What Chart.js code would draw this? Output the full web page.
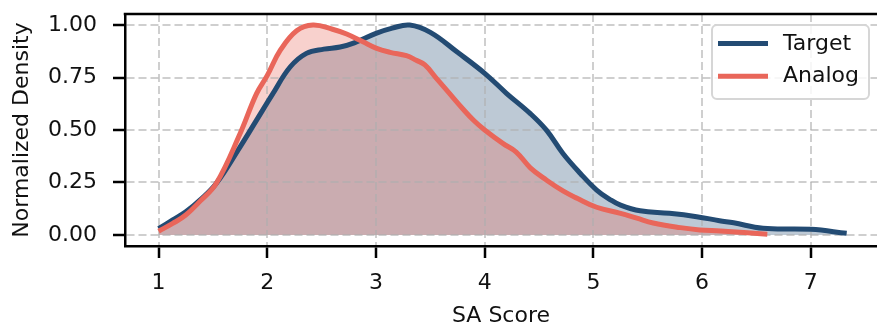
<!DOCTYPE html>
<html>
<head>
<meta charset="utf-8">
<script src="https://cdn.jsdelivr.net/npm/chart.js@4/dist/chart.umd.min.js"></script>
<style>
  html, body { margin: 0; padding: 0; background: #fff; }
  canvas { display: block; }
</style>
</head>
<body>
<canvas id="chart" width="877" height="327" style="width:877px;height:327px"></canvas>
<script>
// Normalized SA score densities
const targetX = [1.00, 1.13, 1.25, 1.38, 1.53, 1.75, 1.90, 2.05, 2.21, 2.36, 2.52, 2.67, 2.80, 3.00, 3.15, 3.31, 3.50, 3.75, 4.00, 4.20, 4.42, 4.57, 4.72, 4.88, 5.03, 5.15, 5.25, 5.43, 5.70, 5.95, 6.16, 6.29, 6.56, 7.00, 7.33];
const targetY = [0.030, 0.072, 0.110, 0.166, 0.245, 0.420, 0.546, 0.672, 0.800, 0.865, 0.885, 0.895, 0.915, 0.960, 0.985, 1.000, 0.965, 0.870, 0.770, 0.675, 0.578, 0.498, 0.388, 0.293, 0.214, 0.170, 0.142, 0.115, 0.103, 0.087, 0.068, 0.058, 0.032, 0.027, 0.008];

const analogX = [1.00, 1.13, 1.25, 1.38, 1.53, 1.75, 1.90, 2.00, 2.12, 2.27, 2.42, 2.60, 2.73, 2.88, 3.00, 3.13, 3.28, 3.37, 3.45, 3.55, 3.65, 3.80, 3.90, 4.00, 4.17, 4.29, 4.42, 4.57, 4.72, 4.85, 5.03, 5.25, 5.40, 5.55, 5.80, 5.98, 6.17, 6.60];
const analogY = [0.018, 0.055, 0.095, 0.160, 0.245, 0.483, 0.672, 0.760, 0.880, 0.973, 1.000, 0.980, 0.957, 0.920, 0.890, 0.870, 0.854, 0.832, 0.810, 0.750, 0.690, 0.600, 0.545, 0.500, 0.435, 0.395, 0.320, 0.261, 0.210, 0.175, 0.132, 0.103, 0.080, 0.057, 0.035, 0.024, 0.019, 0.004];

const seriesNames = ['Target', 'Analog'];
const xTicks = [1, 2, 3, 4, 5, 6, 7];
const yTicks = [0, 0.25, 0.5, 0.75, 1.0];

const NAVY = '#234b73';
const CORAL = '#e9665a';
const FONT = "'DejaVu Sans', sans-serif";
const FONT_SIZE = 22;
const TEXT = '#111111';

const toPoints = (xs, ys) => xs.map((x, i) => ({ x: x, y: ys[i] }));

// Top spine (frame without the right edge)
const topSpine = {
  id: 'topSpine',
  afterDraw(chart) {
    const { ctx, chartArea: a } = chart;
    ctx.save();
    ctx.strokeStyle = '#000';
    ctx.lineWidth = 2.5;
    ctx.beginPath();
    ctx.moveTo(a.left - 1.25, a.top);
    ctx.lineTo(a.right, a.top);
    ctx.stroke();
    ctx.restore();
  }
};

// Framed legend in the upper right corner of the plot
const legendBox = {
  id: 'legendBox',
  afterDraw(chart) {
    const { ctx, chartArea: a } = chart;
    const w = 157, h = 74, r = 5;
    const x0 = a.right - 165, y0 = a.top + 11;
    ctx.save();
    ctx.beginPath();
    ctx.moveTo(x0 + r, y0);
    ctx.arcTo(x0 + w, y0, x0 + w, y0 + h, r);
    ctx.arcTo(x0 + w, y0 + h, x0, y0 + h, r);
    ctx.arcTo(x0, y0 + h, x0, y0, r);
    ctx.arcTo(x0, y0, x0 + w, y0, r);
    ctx.closePath();
    ctx.fillStyle = 'rgba(255,255,255,0.85)';
    ctx.fill();
    ctx.strokeStyle = '#d6d6d6';
    ctx.lineWidth = 2;
    ctx.stroke();

    ctx.font = FONT_SIZE + 'px ' + FONT;
    ctx.textBaseline = 'middle';
    ctx.textAlign = 'left';
    chart.data.datasets.forEach((ds, i) => {
      const y = y0 + 18.5 + i * 32.7;
      ctx.strokeStyle = ds.borderColor;
      ctx.lineWidth = 5;
      ctx.beginPath();
      ctx.moveTo(x0 + 6, y);
      ctx.lineTo(x0 + 56, y);
      ctx.stroke();
      ctx.fillStyle = TEXT;
      ctx.fillText(ds.label, x0 + 71, y + 0.5);
    });
    ctx.restore();
  }
};

const gridCommon = {
  color: 'rgba(175,175,175,0.6)',
  lineWidth: 2,
  borderDash: [8, 4],
  drawTicks: true,
  tickLength: 12,
  tickColor: '#000',
  tickWidth: 2.5,
  tickBorderDash: []
};
const borderCommon = { display: true, color: '#000', width: 2.5, dash: [8, 4] };

new Chart(document.getElementById('chart'), {
  type: 'line',
  data: {
    datasets: [
      {
        label: seriesNames[0],
        data: toPoints(targetX, targetY),
        borderColor: NAVY,
        backgroundColor: 'rgba(35,75,115,0.3)',
        borderWidth: 5,
        pointRadius: 0,
        fill: 'origin',
        tension: 0.4,
        order: 1
      },
      {
        label: seriesNames[1],
        data: toPoints(analogX, analogY),
        borderColor: CORAL,
        backgroundColor: 'rgba(233,102,90,0.3)',
        borderWidth: 5,
        pointRadius: 0,
        fill: 'origin',
        tension: 0.4,
        order: 0
      }
    ]
  },
  options: {
    responsive: false,
    devicePixelRatio: 1,
    animation: false,
    layout: { padding: { top: 14, left: 0, right: 0, bottom: 0 } },
    plugins: {
      legend: { display: false },
      tooltip: { enabled: false },
      filler: { drawTime: 'beforeDraw' }
    },
    scales: {
      x: {
        type: 'linear',
        min: 0.691,
        max: 7.609,
        afterBuildTicks: (s) => { s.ticks = xTicks.map(v => ({ value: v })); },
        afterFit: (s) => { s.height = 81; s.paddingLeft = 0; s.paddingRight = 0; },
        ticks: {
          autoSkip: false,
          maxRotation: 0,
          padding: 12,
          color: TEXT,
          font: { family: FONT, size: FONT_SIZE },
          callback: (v) => String(v)
        },
        grid: gridCommon,
        border: borderCommon,
        title: {
          display: true,
          text: 'SA Score',
          color: TEXT,
          font: { family: FONT, size: FONT_SIZE, lineHeight: 1 },
          padding: { top: 0, bottom: 0 }
        }
      },
      y: {
        type: 'linear',
        min: -0.0525,
        max: 1.0525,
        afterBuildTicks: (s) => { s.ticks = yTicks.map(v => ({ value: v })); },
        afterFit: (s) => { s.width = 125; s.paddingTop = 0; s.paddingBottom = 0; },
        ticks: {
          autoSkip: false,
          padding: 16,
          color: TEXT,
          font: { family: FONT, size: FONT_SIZE },
          callback: (v) => Number(v).toFixed(2)
        },
        grid: gridCommon,
        border: borderCommon,
        title: {
          display: true,
          text: 'Normalized Density',
          color: TEXT,
          font: { family: FONT, size: FONT_SIZE, lineHeight: 1 },
          padding: { top: 11, bottom: 0 }
        }
      }
    }
  },
  plugins: [topSpine, legendBox]
});
</script>
</body>
</html>
